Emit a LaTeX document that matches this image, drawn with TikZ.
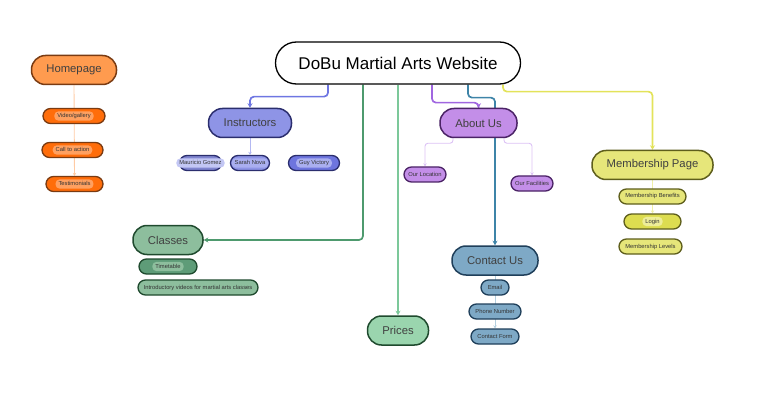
\documentclass[tikz,border=0pt]{standalone}
\usepackage{fontspec}
\setmainfont{Liberation Sans}
\usetikzlibrary{positioning, backgrounds, arrows.meta}

\definecolor{homeFill}{HTML}{FF9B4F}
\definecolor{homeLeaf}{HTML}{FF6D0A}
\definecolor{homeBub}{HTML}{FFA060}
\definecolor{homeEdge}{HTML}{7A3B12}
\definecolor{homeLine}{HTML}{FFCBA4}
\definecolor{instrFill}{HTML}{8E94E6}
\definecolor{instrDeep}{HTML}{6E75DE}
\definecolor{instrBub}{HTML}{AAAFF0}
\definecolor{instrEdge}{HTML}{2B2E6E}
\definecolor{instrLine}{HTML}{6E76E2}
\definecolor{instrTwig}{HTML}{B3B8F2}
\definecolor{aboutFill}{HTML}{C38EE8}
\definecolor{aboutEdge}{HTML}{4B2366}
\definecolor{aboutLine}{HTML}{A066E0}
\definecolor{aboutTwig}{HTML}{DCC2F5}
\definecolor{contactFill}{HTML}{7EA9C6}
\definecolor{contactEdge}{HTML}{1F3F5A}
\definecolor{contactLine}{HTML}{3E84A8}
\definecolor{contactTwig}{HTML}{B5D0E0}
\definecolor{memberFill}{HTML}{E6E67A}
\definecolor{memberDeep}{HTML}{DDDD50}
\definecolor{memberBub}{HTML}{EEEE99}
\definecolor{memberEdge}{HTML}{5E5E1C}
\definecolor{memberLine}{HTML}{E3E35A}
\definecolor{memberTwig}{HTML}{F0F0A8}
\definecolor{classFill}{HTML}{8DBE9D}
\definecolor{classDeep}{HTML}{5E9C78}
\definecolor{classEdge}{HTML}{1F4A2E}
\definecolor{classLine}{HTML}{4E9A6E}
\definecolor{priceFill}{HTML}{9AD5AE}
\definecolor{priceLine}{HTML}{7CC89A}

\begin{document}
\begin{tikzpicture}[x=1pt, y=-1pt, on grid,
    hub/.style = {draw=black, line width=1.3pt, fill=white, rounded corners=21pt,
      minimum width=245pt, minimum height=42pt, font=\fontsize{17}{20}\selectfont},
    topic/.style = {draw=#1, line width=1.5pt, rounded corners=14pt, minimum height=29pt,
      font=\fontsize{11.3}{13}\selectfont, text=black!75},
    leaf/.style = {draw=#1, line width=1.3pt, rounded corners=7.5pt, minimum height=15pt,
      inner sep=1pt, font=\fontsize{5.8}{7}\selectfont, text=black!80},
    bub/.style = {fill=#1, rounded corners=4pt, inner xsep=3pt, inner ysep=1.8pt,
      text height=4.3pt, text depth=1.3pt, font=\fontsize{5.8}{7}\selectfont, text=black!80},
    link/.style = {-{Stealth[length=4.5pt, width=5pt]}, line width=1.7pt, rounded corners=4pt, draw=#1},
    twig/.style = {-{Stealth[length=3pt, width=3.5pt]}, line width=0.9pt, rounded corners=3pt, draw=#1}]
  \useasboundingbox (0,0) rectangle (782,409);

  \node[hub] (site) at (398,63) {DoBu Martial Arts Website};

  % homepage
  \node[topic=homeEdge, fill=homeFill, minimum width=85pt] (home) at (74,70) {Homepage};
  \node[leaf=homeEdge, fill=homeLeaf, minimum width=62pt, label={[bub=homeBub]center:Video/gallery}] (video) [below=46pt of home] {};
  \node[leaf=homeEdge, fill=homeLeaf, minimum width=61pt, label={[bub=homeBub]center:Call to action}] (action) [below=34pt of video, xshift=-1.5pt] {};
  \node[leaf=homeEdge, fill=homeLeaf, minimum width=57pt, label={[bub=homeBub]center:Testimonials}] (testi) [below=34pt of action, xshift=2pt] {};

  % instructors
  \node[topic=instrEdge, fill=instrFill, minimum width=83pt] (instr) at (250,123) {Instructors};
  \node[leaf=instrEdge, fill=instrFill, minimum width=39pt, label={[bub=instrBub]center:Sarah Nova}] (sarah) [below=40pt of instr] {};
  \node[leaf=instrEdge, fill=instrFill!90!black, minimum width=42pt, label={[bub=instrBub!70]center:Mauricio Gomez}] (mauricio) [left=49.5pt of sarah] {};
  \node[leaf=instrEdge, fill=instrDeep, minimum width=51pt, label={[bub=instrBub]center:Guy Victory}] (guy) [right=64pt of sarah] {};

  % about us
  \node[topic=aboutEdge, fill=aboutFill, minimum width=77pt] (about) at (478.5,123) {About Us};
  \node[leaf=aboutEdge, fill=aboutFill, minimum width=42pt] (location) at (425,174.5) {Our Location};
  \node[leaf=aboutEdge, fill=aboutFill, minimum width=42pt] (facility) at (532,183.5) {Our Facilities};

  % membership
  \node[topic=memberEdge, fill=memberFill, minimum width=121pt] (member) at (652.5,165) {Membership Page};
  \node[leaf=memberEdge, fill=memberFill, minimum width=67pt] (benefit) [below=31.5pt of member] {Membership Benefits};
  \node[leaf=memberEdge, fill=memberDeep, minimum width=57pt, label={[bub=memberBub]center:Login}] (login) [below=25pt of benefit] {};
  \node[leaf=memberEdge, fill=memberFill, minimum width=63pt] (level) [below=25pt of login, xshift=-2pt] {Membership Levels};

  % classes
  \node[topic=classEdge, fill=classFill, minimum width=70pt] (classes) at (168,240) {Classes};
  \node[leaf=classEdge, fill=classDeep, minimum width=58pt, label={[bub=classFill]center:Timetable}] (timetable) [below=26.5pt of classes] {};
  \node[leaf=classEdge, fill=classFill, minimum width=120pt] (intro) [below=21pt of timetable, xshift=30pt] {Introductory videos for martial arts classes};

  % prices
  \node[topic=classEdge, fill=priceFill, minimum width=61pt] (prices) at (398,330.5) {Prices};

  % contact us
  \node[topic=contactEdge, fill=contactFill, minimum width=86pt] (contact) at (495,260.5) {Contact Us};
  \node[leaf=contactEdge, fill=contactFill, minimum width=28pt] (email) [below=27pt of contact] {Email};
  \node[leaf=contactEdge, fill=contactFill, minimum width=52pt] (phone) [below=24pt of email] {Phone Number};
  \node[leaf=contactEdge, fill=contactFill, minimum width=48pt] (cform) [below=25pt of phone] {Contact Form};

  \begin{scope}[on background layer]
    \draw[link=instrLine] ([xshift=-70pt]site.south) -- ++(0,12) -| (instr.north);
    \draw[link=aboutLine] ([xshift=34pt]site.south) -- ++(0,18) -| (about.north);
    \draw[link=contactLine] ([xshift=70pt]site.south) -- ++(0,13) -| (contact.north);
    \draw[link=memberLine] ([xshift=105pt]site.south) -- ++(0,7) -| (member.north);
    \draw[link=classLine] ([xshift=-35pt]site.south) |- (classes.east);
    \draw[link=priceLine] (site.south) -- (prices.north);

    \draw[twig=homeLine] (home.south) -- (testi.north);
    \draw[twig=instrTwig] (instr.south) -- (sarah.north);
    \draw[twig=aboutTwig] ([xshift=-25.5pt]about.south) -- ++(0,5) -| (location.north);
    \draw[twig=aboutTwig] ([xshift=25.5pt]about.south) -- ++(0,5) -| (facility.north);
    \draw[twig=memberTwig] (member.south) -- (login.north);
    \draw[twig=contactTwig] (contact.south) -- (cform.north);
  \end{scope}
\end{tikzpicture}
\end{document}
